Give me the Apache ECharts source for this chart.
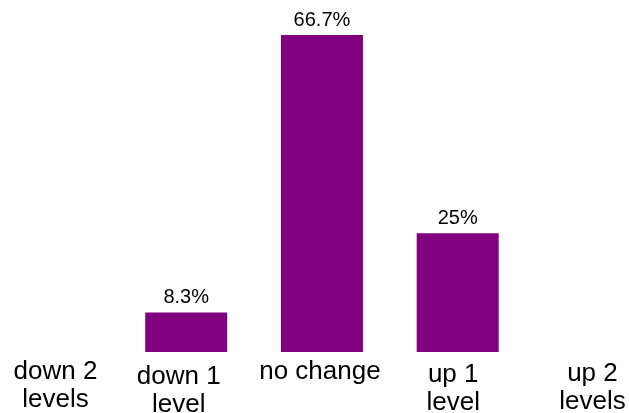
<!DOCTYPE html>
<html>
<head>
<meta charset="utf-8">
<script src="https://cdn.jsdelivr.net/npm/echarts@6/dist/echarts.min.js"></script>
<style>html,body{margin:0;padding:0;background:#fff;}#c{width:629px;height:413px;}</style>
</head>
<body>
<div id="c"></div>
<script>
const categories = ["down 2\nlevels", "down 1\nlevel", "no change", "up 1\nlevel", "up 2\nlevels"];
const values = [null, 8.3, 66.7, 25, null];
const valueLabels = ["", "8.3%", "66.7%", "25%", ""];

const labelPads = [[0,0,0,10],[5,15,0,0],[0,4,0,0],[3,9,0,0],[2,2,0,0]];

const chart = echarts.init(document.getElementById('c'), null, {renderer: 'canvas'});
chart.setOption({
  animation: false,
  grid: {left: -17.4, right: -32.3, top: 35, bottom: 61, containLabel: false, outerBoundsMode: 'none'},
  xAxis: {
    type: 'category',
    data: categories.map((c, i) => ({value: c, textStyle: {padding: labelPads[i]}})),
    axisLine: {show: false},
    axisTick: {show: false},
    axisLabel: {
      interval: 0,
      margin: 6,
      hideOverlap: false,
      fontFamily: 'Liberation Sans, Arial, sans-serif',
      fontSize: 26,
      lineHeight: 28,
      color: '#000'
    }
  },
  yAxis: {
    type: 'value',
    min: 0,
    max: 66.7,
    show: false,
    splitLine: {show: false}
  },
  series: [{
    type: 'bar',
    data: values,
    barWidth: 82,
    itemStyle: {color: '#800080'},
    label: {
      show: true,
      position: 'top',
      distance: 5,
      fontFamily: 'Liberation Sans, Arial, sans-serif',
      fontSize: 20,
      color: '#000',
      formatter: p => valueLabels[p.dataIndex]
    }
  }]
});
</script>
</body>
</html>
